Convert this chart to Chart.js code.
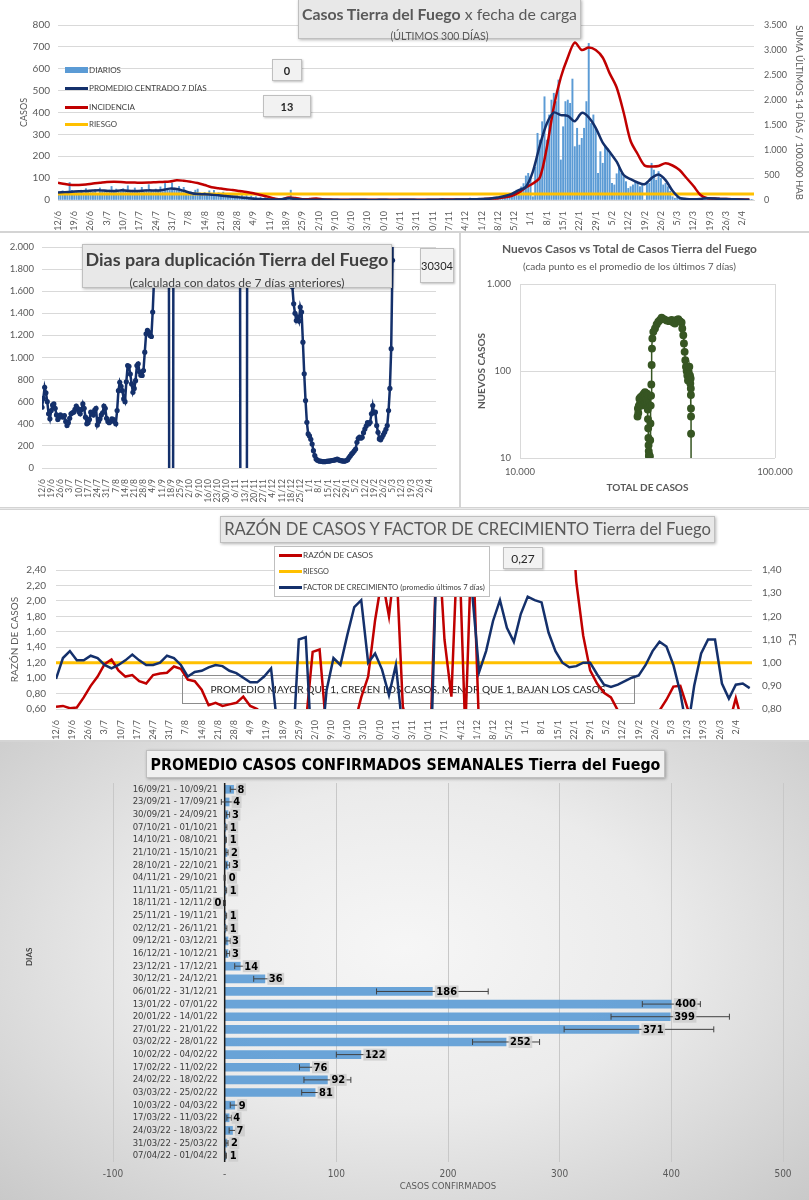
<!DOCTYPE html>
<html>
<head>
<meta charset="utf-8">
<script src="https://cdn.jsdelivr.net/npm/chart.js@4.4.1/dist/chart.umd.min.js"></script>
<style>
body{margin:0;background:#e9e9e9;width:809px;height:1200px;position:relative;overflow:hidden;font-family:Lato,"Open Sans",sans-serif;}
.panel{position:absolute;background:#fff;outline:1px solid #d4d4d4;}
.panel canvas{position:absolute;left:0;top:0;}
.caja{position:absolute;background:#f2f2f2;border:1px solid #bfbfbf;box-shadow:1px 1px 2px rgba(0,0,0,.25);display:flex;align-items:center;justify-content:center;font-size:11px;color:#262626;box-sizing:border-box;}
.tit{position:absolute;background:#e8e8e8;border:1px solid #bfbfbf;box-shadow:1px 1px 3px rgba(0,0,0,.3);box-sizing:border-box;color:#595959;}
.linea{position:absolute;left:0;right:0;text-align:center;white-space:nowrap;line-height:1;}
.fit{white-space:nowrap;display:inline-block;}
.ley{position:absolute;font-size:9px;color:#404040;display:flex;align-items:center;white-space:nowrap;line-height:1;}
.ley i{display:inline-block;width:23px;height:3px;margin-right:1px;}
</style>
</head>
<body>

<div class="panel" style="left:0;top:0;width:809px;height:231px">
  <canvas id="c1" width="809" height="231"></canvas>
  <div class="tit" style="left:298px;top:-1px;width:283px;height:40px">
    <div class="linea" style="top:6px"><span class="fit" data-w="275" style="font-size:16px"><b>Casos Tierra del Fuego</b> x fecha de carga</span></div>
    <div class="linea" style="top:26px"><span class="fit" data-w="98" style="font-size:10px">(ÚLTIMOS 300 DÍAS)</span></div>
  </div>
  <div class="ley" style="left:65px;top:66px"><i style="height:6px;background:#5b9bd5"></i><span class="fit" data-w="32">DIARIOS</span></div>
  <div class="ley" style="left:65px;top:84px"><i style="background:#14306b"></i><span class="fit" data-w="118">PROMEDIO CENTRADO 7 DÍAS</span></div>
  <div class="ley" style="left:65px;top:103px"><i style="background:#c00000"></i><span class="fit" data-w="46">INCIDENCIA</span></div>
  <div class="ley" style="left:65px;top:121px"><i style="background:#ffc000"></i><span class="fit" data-w="28">RIESGO</span></div>
  <div class="caja" style="left:272px;top:59px;width:30px;height:22px;font-weight:bold">0</div>
  <div class="caja" style="left:263px;top:95px;width:48px;height:22px;font-weight:bold">13</div>
</div>

<div class="panel" style="left:0;top:233px;width:459px;height:274px">
  <canvas id="c2" width="459" height="274"></canvas>
  <div class="tit" style="left:82px;top:11px;width:310px;height:44px;color:#404040">
    <div class="linea" style="top:5px"><span class="fit" data-w="303" style="font-size:20px;font-weight:bold">Dias para duplicación Tierra del Fuego</span></div>
    <div class="linea" style="top:28px"><span class="fit" data-w="215" style="font-size:12px">(calculada con datos de 7 días anteriores)</span></div>
  </div>
  <div class="caja" style="left:420px;top:15px;width:34px;height:35px">30304</div>
</div>

<div class="panel" style="left:461px;top:233px;width:348px;height:274px">
  <canvas id="c3" width="348" height="274"></canvas>
  <div class="linea" style="top:6px;width:337px;color:#595959"><span class="fit" data-w="255" style="font-size:13px;font-weight:bold">Nuevos Casos vs Total de Casos Tierra del Fuego</span></div>
  <div class="linea" style="top:23px;width:337px;color:#595959"><span class="fit" data-w="213" style="font-size:10px">(cada punto es el promedio de los últimos 7 días)</span></div>
</div>

<div class="panel" style="left:0;top:510px;width:809px;height:230px">
  <canvas id="c4" width="809" height="230"></canvas>
  <div class="tit" style="left:220px;top:6px;width:495px;height:27px">
    <div class="linea" style="top:4px"><span class="fit" data-w="487" style="font-size:20px">RAZÓN DE CASOS Y FACTOR DE CRECIMIENTO Tierra del Fuego</span></div>
  </div>
  <div style="position:absolute;left:274px;top:36px;width:216px;height:51px;background:#fff;border:1px solid #bfbfbf;box-sizing:border-box">
    <div class="ley" style="left:4px;top:4px"><i style="background:#c00000"></i><span class="fit" data-w="70">RAZÓN DE CASOS</span></div>
    <div class="ley" style="left:4px;top:21px"><i style="background:#ffc000"></i><span class="fit" data-w="26">RIESGO</span></div>
    <div class="ley" style="left:4px;top:37px"><i style="background:#14306b"></i><span class="fit" data-w="182">FACTOR DE CRECIMIENTO (promedio últimos 7 días)</span></div>
  </div>
  <div class="caja" style="left:503px;top:37px;width:40px;height:22px;font-size:12px">0,27</div>
</div>

<div class="panel" style="left:0;top:742px;width:809px;height:458px;background:radial-gradient(ellipse at 50% 45%, #f6f6f6 0%, #ebebeb 45%, #c9c9c9 100%)">
  <canvas id="c5" width="809" height="458"></canvas>
  <div class="tit" style="left:146px;top:8px;width:519px;height:28px;background:#f0f0f0;color:#000">
    <div class="linea" style="top:5px"><span class="fit" data-w="510" style="font-size:17px;font-weight:bold;font-family:'Liberation Sans Narrow','DejaVu Sans Condensed',Lato,sans-serif">PROMEDIO CASOS CONFIRMADOS SEMANALES Tierra del Fuego</span></div>
  </div>
  <div style="position:absolute;left:24px;top:224px;font-size:8px;font-weight:bold;color:#404040;transform:rotate(-90deg);transform-origin:left top;white-space:nowrap">DIAS</div>
</div>

<script>
// Etiquetas semanales del eje X (días desde 12/6)
const semanas = ['12/6','19/6','26/6','3/7','10/7','17/7','24/7','31/7','7/8','14/8','21/8','28/8','4/9','11/9','18/9','25/9',
  '2/10','9/10','16/10','23/10','30/10','6/11','13/11','20/11','27/11','4/12','11/12','18/12','25/12','1/1','8/1','15/1',
  '22/1','29/1','5/2','12/2','19/2','26/2','5/3','12/3','19/3','26/3','2/4'];

// Casos diarios (un valor por día)
const diarios = [
  35,30,42,28,38,80,44, 36,40,33,45,30,52,38, 41,35,48,30,55,39,44, 38,46,62,35,50,42,47,
  52,40,65,38,45,55,43, 40,58,36,48,70,44,39, 50,45,60,38,76,52,46, 78,55,48,62,42,58,35,
  30,38,28,45,50,32,26, 35,28,42,30,44,25,33, 28,36,24,30,22,27,20, 25,18,22,15,20,14,18,
  12,15,9,13,8,11,7, 9,6,8,4,6,3,5, 2,4,45,3,1,2,0, 1,0,2,1,0,3,1,
  2,1,0,3,1,0,2, 1,0,2,0,1,0,1, 0,1,0,2,0,1,0, 1,0,1,0,0,2,0,
  0,1,0,0,1,0,2, 0,0,1,0,0,1,0, 0,1,0,2,0,1,1, 0,2,1,3,0,1,2,
  1,3,2,4,1,2,4, 3,2,9,4,2,5,3, 4,6,3,5,8,4,7, 10,14,8,18,25,20,30,
  36,45,40,60,75,110,122, 107,15,150,305,274,358,472, 274,389,457,488,450,549,183, 335,450,457,442,553,244,328,
  251,282,328,450,716,350,389, 328,122,221,168,244,236,221, 76,69,120,152,122,107,84, 53,61,69,84,76,61,69,
  0,84,76,168,137,91,130, 99,69,76,61,40,15,8, 12,6,10,5,4,3,6, 2,5,3,4,8,6,3,
  9,5,7,4,10,6,3, 4,2,5,3,2,4,1, 3,2,1,2,1,0
];

// Series leídas cada 3 días
const PASO = 3;
const promedio7 = [34,36,38,40,41,43,44,42,41,44,42,41,42,44,43,46,52,50,42,32,27,26,24,22,18,15,12,9,6,4,3,2,3,8,5,2,
  1,1,2,1,1,0,1,1,1,0,1,1,0,1,1,1,0,1,1,2,1,2,
  2,3,4,5,7,12,18,28,45,60,130,250,350,400,388,385,360,398,378,330,262,220,175,114,95,80,72,100,117,91,42,10,5,4,5,8,7,5,4,3,2,1];
const incidencia14 = [345,320,300,300,310,330,345,360,365,360,350,348,345,348,355,362,370,395,385,365,340,300,255,235,215,200,180,160,135,100,68,30,12,50,40,15,18,30,12,
  8,6,5,5,4,4,3,3,3,3,4,4,5,5,6,7,8,9,10,11,13,
  15,20,28,35,55,85,150,250,330,450,1050,1867,2450,2850,3150,3000,3050,3000,2850,2533,2250,1750,1180,920,690,670,680,735,690,600,440,280,100,35,30,20,18,15,12,10];
const riesgoIncidencia = 120;

// Días para duplicación (tramos diarios; día de inicio de cada tramo)
const dupInicio = [0, 96, 150, 189];
const dupTramo1 = [550,630,730,680,600,490,445,520,570,580, 540,480,440,460,480,470,460,475,420,385,
  410,450,490,500,505,530,560,540,510,490, 530,580,540,460,400,410,440,505,500,480,
  525,540,390,420,445,480,500,560,540,450, 420,410,420,445,440,420,400,520,700,776,
  740,700,625,600,780,927,920,850,761,685, 720,790,927,943,870,840,837,882,1048,1214,
  1245,1230,1200,1190,1411,1700,2400];
const dupCruce1 = [5000,-5000,null,-5000,5000];
const dupCruce2 = [5000,-5000,null,null,null,-5000,5000];
const dupTramo2 = [3500,1640,1486,1400,1335,1365,1330,1456,1411,1139,852,610,414,308,290,260,217,157,112,82,70,65,
  62,60,58,57,58,60,62,63,65,68,70,72,75,80,74,70,66,64,62,63,68,75,
  95,110,127,140,155,172,233,269,280,270,278,320,353,380,410,399,414,490,565,500,505,384,323,263,255,278,300,323,350,384,520,720,1080,1879,30304];

// Nuevos casos vs total de casos
const totalCasos = [28900,29000,29100,29250,29400,29550,29700,29820,30000,30150,30270,30450,30600,30730,30910,31000,31100,31250,31380,31500,
  31600,31700,31760,31820,31880,31930,31980,32030,32080,32120,32160,32200,32250,32320,32400,32480,32550,32650,32730,32830,32930,33040,
  33330,33840,34340,34860,35400,35930,36700,37590,38500,39320,39920,40520,41130,41750,42390,43030,43290,43690,43950,44220,44490,44760,
  45030,45300,45580,45850,46130,46410,46550,46690,46760,46800,46830,46850,46860,46870];
const nuevosCasos = [30,37,33,40,48,42,50,46,40,52,44,48,55,50,57,45,52,40,48,55,
  44,36,28,22,17,14,12,10.5,11,6,3,4,7,10.5,16,25,40,52,70,117,181,237,
  282,308,343,368,385,410,395,381,374,385,362,352,385,395,374,362,308,258,207,166,133,112,
  100,89,78,98,112,89,72,82,63,53,37,30,19,8];

// Razón de casos y factor de crecimiento (cada 3 días)
const razonCasos = [0.63,0.64,0.61,0.62,0.75,0.9,1.02,1.18,1.24,1.1,1.02,1.04,0.96,0.93,1.04,1.06,1.07,1.15,1.12,0.98,
  0.96,0.85,0.65,0.68,0.64,0.66,0.68,0.76,0.64,0.6,0.5,0.4,0.35,0.3,0.3,0.3,0.4,1.34,1.37,0.3,
  0.3,0.3,0.3,0.4,0.75,1.02,1.75,2.3,1.8,2.6,0.63,0.3,0.3,0.3,0.3,3.0,1.5,0.76,3.0,0.3,
  3.0,0.3,null,null,null,null,null,null,null,null,null,null,null,4.0,3.6,2.25,1.55,1.1,0.93,0.81,
  0.75,0.58,0.4,0.35,0.35,0.35,0.4,0.58,0.72,0.89,0.9,0.62,0.4,0.35,0.35,0.35,0.35,0.4,0.74,0.4,0.4];
const factorCrec = [0.93,1.02,1.05,1.01,1.01,1.03,1.02,0.99,0.975,0.99,1.01,1.035,1.01,0.99,0.99,1.0,1.03,1.02,0.99,0.94,
  0.96,0.965,0.98,0.99,0.985,0.965,0.955,0.935,0.915,0.915,0.94,0.975,0.7,0.55,0.55,1.1,1.11,0.55,0.55,0.88,
  1.02,0.99,1.12,1.24,1.27,1.0,1.04,0.97,0.86,0.99,0.7,0.55,0.55,0.55,0.55,1.6,1.6,1.6,1.6,1.6,
  1.3,0.96,1.05,1.18,1.27,1.15,1.09,1.21,1.285,1.27,1.26,1.13,1.05,1.0,0.98,0.985,1.0,1.0,0.95,0.905,
  0.895,0.905,0.92,0.935,0.945,0.99,1.05,1.09,1.07,0.99,0.87,0.7,0.9,1.04,1.1,1.1,0.91,0.845,0.905,0.91,0.89];
const riesgoRazon = 1.2;

// Promedio semanal de casos confirmados
const semanasTxt = ['16/09/21 - 10/09/21','23/09/21 - 17/09/21','30/09/21 - 24/09/21','07/10/21 - 01/10/21','14/10/21 - 08/10/21',
  '21/10/21 - 15/10/21','28/10/21 - 22/10/21','04/11/21 - 29/10/21','11/11/21 - 05/11/21','18/11/21 - 12/11/21',
  '25/11/21 - 19/11/21','02/12/21 - 26/11/21','09/12/21 - 03/12/21','16/12/21 - 10/12/21','23/12/21 - 17/12/21',
  '30/12/21 - 24/12/21','06/01/22 - 31/12/21','13/01/22 - 07/01/22','20/01/22 - 14/01/22','27/01/22 - 21/01/22',
  '03/02/22 - 28/01/22','10/02/22 - 04/02/22','17/02/22 - 11/02/22','24/02/22 - 18/02/22','03/03/22 - 25/02/22',
  '10/03/22 - 04/03/22','17/03/22 - 11/03/22','24/03/22 - 18/03/22','31/03/22 - 25/03/22','07/04/22 - 01/04/22'];
const promSemanal = [8,4,3,1,1,2,3,0,1,-0.2,1,1,3,3,14,36,186,400,399,371,252,122,76,92,81,9,4,7,2,1];
const errSemanal = [3,7,1.5,1,0.5,1,1.5,0.5,0.8,0.8,0.8,1,2,1.5,5,10,50,26,53,67,30,22,9,21,12,4,2,3,1,0.5];

// ---------- ajustes de texto ----------
document.querySelectorAll('[data-w]').forEach(el => {
  const w = el.getBoundingClientRect().width;
  const fs = parseFloat(getComputedStyle(el).fontSize);
  el.style.fontSize = (fs * parseFloat(el.dataset.w) / w).toFixed(2) + 'px';
});

Chart.defaults.font.family = 'Lato, "Open Sans", sans-serif';
Chart.defaults.color = '#595959';
Chart.defaults.animation = false;
Chart.defaults.plugins.legend.display = false;
Chart.defaults.plugins.tooltip.enabled = false;

const NAVY = '#14306b', ROJO = '#c00000', AMARILLO = '#ffc000', GRILLA = '#d9d9d9';
const NARROW = '"Liberation Sans Narrow","DejaVu Sans Condensed",Lato,sans-serif';
const miles = v => String(v).replace(/\B(?=(\d{3})+(?!\d))/g, '.');
const coma = d => v => v.toFixed(d).replace('.', ',');
const cada3 = arr => arr.map((v, i) => ({x: i * PASO, y: v}));
const semTicks = scale => { scale.ticks = semanas.map((s, i) => ({value: i * 7})); };
const ejeSemanas = (max, alto, fs) => ({
  type: 'linear', min: 0, max: max, offset: false,
  afterBuildTicks: semTicks, afterFit: s => { s.height = alto; },
  grid: {display: false}, border: {color: GRILLA},
  ticks: {autoSkip: false, minRotation: 90, maxRotation: 90, padding: 3, font: {size: fs}, callback: (v, i) => semanas[i]}
});

// ---------- 1. Casos x fecha de carga ----------
new Chart(document.getElementById('c1'), {
  type: 'line',
  data: {
    datasets: [
      {type: 'bar', label: 'DIARIOS', data: diarios.map((v, i) => ({x: i, y: v})), backgroundColor: '#5b9bd5', barThickness: 1.3, yAxisID: 'y', order: 4},
      {label: 'RIESGO', data: [{x: 0, y: riesgoIncidencia}, {x: 299, y: riesgoIncidencia}], borderColor: AMARILLO, borderWidth: 3, pointRadius: 0, yAxisID: 'y2', order: 3},
      {label: 'INCIDENCIA', data: cada3(incidencia14), borderColor: ROJO, borderWidth: 2.5, pointRadius: 0, tension: 0.3, yAxisID: 'y2', order: 2},
      {label: 'PROMEDIO CENTRADO 7 DÍAS', data: cada3(promedio7), borderColor: NAVY, borderWidth: 2.5, pointRadius: 0, tension: 0.3, yAxisID: 'y', order: 1}
    ]
  },
  options: {
    responsive: false,
    layout: {padding: {top: 25, left: 15, right: 2, bottom: 0}},
    scales: {
      x: ejeSemanas(299, 31, 9),
      y: {min: 0, max: 800, ticks: {stepSize: 100, padding: 8, font: {size: 10}}, grid: {color: GRILLA, drawTicks: false}, border: {display: false},
        title: {display: true, text: 'CASOS', font: {size: 9}}, afterFit: s => { s.width = 43; }},
      y2: {position: 'right', min: 0, max: 3500, ticks: {stepSize: 500, padding: 10, font: {size: 9}, callback: miles}, grid: {display: false, drawTicks: false}, border: {display: false},
        title: {display: true, text: 'SUMA ÚLTIMOS 14 DÍAS / 100.000 HAB', font: {size: 9.5}, padding: {top: 2, bottom: 2}}, afterFit: s => { s.width = 53; }}
    }
  }
});

// ---------- 2. Días para duplicación ----------
const dupTramos = [dupTramo1, dupCruce1, dupCruce2, dupTramo2];
const puntosDup = [];
dupTramos.forEach((t, k) => {
  t.forEach((v, i) => puntosDup.push({x: dupInicio[k] + i, y: v}));
  puntosDup.push({x: dupInicio[k] + t.length, y: null});
});
new Chart(document.getElementById('c2'), {
  type: 'line',
  data: {datasets: [{data: puntosDup, borderColor: NAVY, backgroundColor: NAVY, borderWidth: 2.5, pointRadius: 2.6, pointBorderWidth: 0, spanGaps: false}]},
  options: {
    responsive: false,
    layout: {padding: {top: 14, left: 0, right: 23, bottom: 0}},
    scales: {
      x: ejeSemanas(299, 39, 8.5),
      y: {min: 0, max: 2000, ticks: {stepSize: 200, padding: 8, font: {size: 9.5}, callback: miles}, grid: {color: GRILLA, drawTicks: false}, border: {display: false},
        afterFit: s => { s.width = 42; }}
    }
  }
});

// ---------- 3. Nuevos casos vs total ----------
new Chart(document.getElementById('c3'), {
  type: 'scatter',
  data: {datasets: [{data: totalCasos.map((t, i) => ({x: t, y: nuevosCasos[i]})), showLine: true, borderColor: '#375623', backgroundColor: '#375623', borderWidth: 1.5, pointRadius: 3.2}]},
  options: {
    responsive: false,
    layout: {padding: {top: 51, left: 11, right: 34, bottom: 9}},
    scales: {
      x: {type: 'logarithmic', min: 10000, max: 100000, afterBuildTicks: s => { s.ticks = [{value: 10000}, {value: 100000}]; },
        ticks: {callback: miles, padding: 8, font: {size: 9.5}}, grid: {color: GRILLA, drawTicks: false}, border: {display: false},
        title: {display: true, text: 'TOTAL DE CASOS', font: {size: 10, weight: 'bold'}}, afterFit: s => { s.height = 40; }},
      y: {type: 'logarithmic', min: 10, max: 1000, afterBuildTicks: s => { s.ticks = [{value: 10}, {value: 100}, {value: 1000}]; },
        ticks: {callback: miles, padding: 9, font: {size: 9.5}}, grid: {color: GRILLA, drawTicks: false}, border: {display: false},
        title: {display: true, text: 'NUEVOS CASOS', font: {size: 10, weight: 'bold'}}, afterFit: s => { s.width = 48; }}
    }
  }
});

// ---------- 4. Razón de casos y factor de crecimiento ----------
const notaFC = {
  id: 'notaFC',
  beforeDatasetsDraw(chart) {
    const ctx = chart.ctx;
    const txt = 'PROMEDIO MAYOR QUE 1, CRECEN LOS CASOS, MENOR QUE 1, BAJAN LOS CASOS';
    ctx.save();
    ctx.strokeStyle = '#8c8c8c';
    ctx.lineWidth = 1;
    ctx.strokeRect(182.5, 165.5, 452, 28);
    ctx.font = '13px Lato';
    const fs = 13 * 395 / ctx.measureText(txt).width;
    ctx.font = fs.toFixed(2) + 'px Lato';
    ctx.fillStyle = '#262626';
    ctx.textAlign = 'center';
    ctx.textBaseline = 'middle';
    ctx.fillText(txt, 408, 180);
    ctx.restore();
  }
};
new Chart(document.getElementById('c4'), {
  type: 'line',
  data: {
    datasets: [
      {label: 'RIESGO', data: [{x: 0, y: riesgoRazon}, {x: 301, y: riesgoRazon}], borderColor: AMARILLO, borderWidth: 3, pointRadius: 0, yAxisID: 'y', order: 3},
      {label: 'RAZÓN DE CASOS', data: cada3(razonCasos), borderColor: ROJO, borderWidth: 2.5, pointRadius: 0, spanGaps: false, yAxisID: 'y', order: 2},
      {label: 'FACTOR DE CRECIMIENTO', data: cada3(factorCrec), borderColor: NAVY, borderWidth: 2.5, pointRadius: 0, yAxisID: 'y2', order: 1}
    ]
  },
  options: {
    responsive: false,
    layout: {padding: {top: 60, left: 5, right: 7, bottom: 0}},
    scales: {
      x: ejeSemanas(301, 31, 9),
      y: {min: 0.6, max: 2.4, ticks: {stepSize: 0.2, padding: 10, font: {size: 10}, callback: coma(2)}, grid: {color: GRILLA, drawTicks: false}, border: {display: false},
        title: {display: true, text: 'RAZÓN DE CASOS', font: {size: 10}}, afterFit: s => { s.width = 51; }},
      y2: {position: 'right', min: 0.8, max: 1.4, ticks: {stepSize: 0.1, padding: 10, font: {size: 10}, callback: coma(2)}, grid: {display: false, drawTicks: false}, border: {display: false},
        title: {display: true, text: 'FC', font: {size: 10}}, afterFit: s => { s.width = 50; }}
    }
  },
  plugins: [notaFC]
});

// ---------- 5. Promedio casos confirmados semanales ----------
const barrasExtras = {
  id: 'barrasExtras',
  afterDatasetsDraw(chart) {
    const {ctx, chartArea, scales: {x, y}} = chart;
    const x0 = x.getPixelForValue(0);
    ctx.save();
    ctx.strokeStyle = '#1a1a1a';
    ctx.lineWidth = 1.5;
    ctx.beginPath();
    ctx.moveTo(x0, chartArea.top);
    ctx.lineTo(x0, chartArea.bottom);
    ctx.stroke();
    // etiquetas de semanas
    ctx.font = '10px ' + NARROW;
    const fs = 10 * 85 / ctx.measureText(semanasTxt[0]).width;
    ctx.font = fs.toFixed(2) + 'px ' + NARROW;
    ctx.fillStyle = '#404040';
    ctx.textAlign = 'right';
    ctx.textBaseline = 'middle';
    semanasTxt.forEach((t, i) => ctx.fillText(t, x0 - 7, y.getPixelForValue(i)));
    // barras de error y valores
    promSemanal.forEach((v, i) => {
      const yc = y.getPixelForValue(i);
      const a = x.getPixelForValue(v - errSemanal[i]);
      const b = x.getPixelForValue(v + errSemanal[i]);
      ctx.strokeStyle = '#404040';
      ctx.lineWidth = 1;
      ctx.beginPath();
      ctx.moveTo(a, yc); ctx.lineTo(b, yc);
      ctx.moveTo(a, yc - 3); ctx.lineTo(a, yc + 3);
      ctx.moveTo(b, yc - 3); ctx.lineTo(b, yc + 3);
      ctx.stroke();
      const txt = String(Math.round(v));
      const xe = x.getPixelForValue(v);
      ctx.font = 'bold 11px ' + NARROW;
      const w = ctx.measureText(txt).width;
      const lx = v < 0 ? xe - 3 - w : xe + 4;
      ctx.fillStyle = 'rgba(205,205,205,0.85)';
      ctx.fillRect(lx - 1.5, yc - 6, w + 3, 12);
      ctx.fillStyle = '#000';
      ctx.textAlign = 'left';
      ctx.fillText(txt, lx, yc + 0.5);
    });
    ctx.restore();
  }
};
new Chart(document.getElementById('c5'), {
  type: 'bar',
  data: {labels: semanasTxt, datasets: [{data: promSemanal, backgroundColor: 'rgba(91,155,213,0.9)', barThickness: 8}]},
  options: {
    responsive: false,
    indexAxis: 'y',
    layout: {padding: {top: 41, left: 113, right: 26, bottom: 0}},
    scales: {
      x: {min: -100, max: 500, ticks: {stepSize: 100, padding: 6, font: {size: 10, family: NARROW}, color: '#595959', callback: v => v === 0 ? '-' : v},
        grid: {color: '#c8c8c8', drawTicks: false}, border: {display: false},
        title: {display: true, text: 'CASOS CONFIRMADOS', font: {size: 9.5, family: NARROW}, padding: {top: 0, bottom: 8}},
        afterFit: s => { s.height = 38; }},
      y: {display: false}
    }
  },
  plugins: [barrasExtras]
});
</script>
</body>
</html>
